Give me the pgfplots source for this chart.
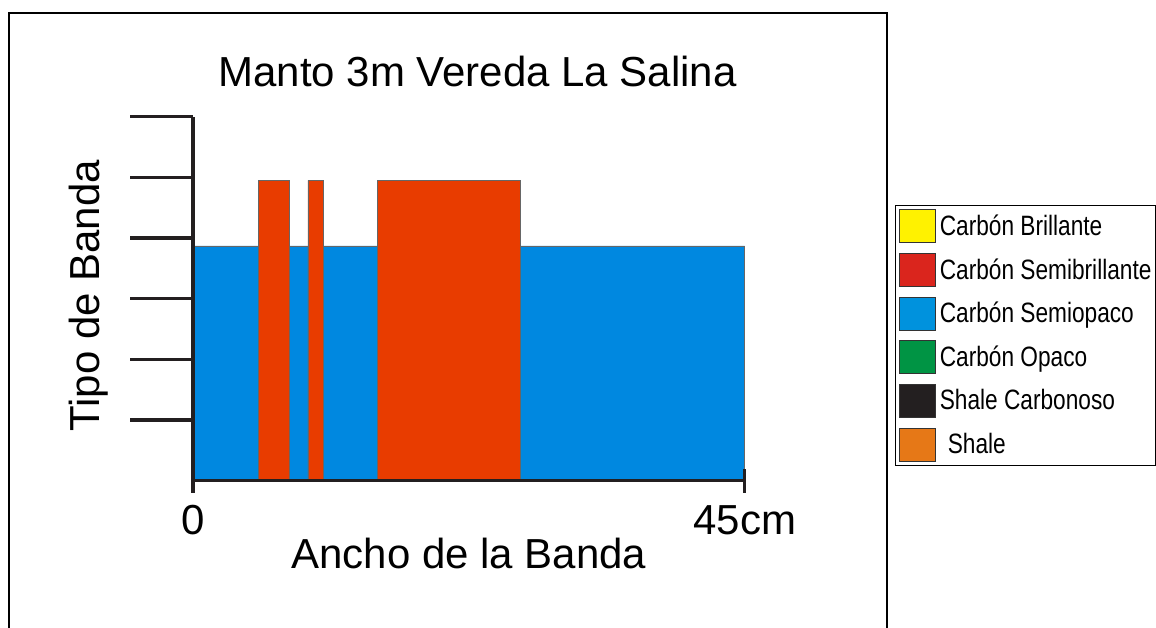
\documentclass[border=0pt]{standalone}
\usepackage{fontspec}
\setmainfont{Liberation Sans}
\newfontfamily\narrowfont[FakeStretch=0.81]{Liberation Sans}
\usepackage{pgfplots}
\pgfplotsset{compat=1.18}
\definecolor{axisblack}{HTML}{231F20}
\definecolor{barblue}{HTML}{0088E0}
\definecolor{barred}{HTML}{E83C00}
\definecolor{lyellow}{HTML}{FFF200}
\definecolor{lred}{HTML}{DA251D}
\definecolor{lblue}{HTML}{0092DD}
\definecolor{lgreen}{HTML}{009444}
\definecolor{lblack}{HTML}{231F20}
\definecolor{lorange}{HTML}{E67817}
\begin{document}
\begin{tikzpicture}
\begin{scope}[x=0.75pt,y=-0.75pt]
\useasboundingbox (0,0) rectangle (1156,628);
\fill[white] (0,0) rectangle (1156,628);
\draw[line width=1.5pt, black] (9,629) -- (9,13) -- (887,13) -- (887,629);
\end{scope}
\begin{axis}[
  at={(144.75pt,-360.75pt)}, anchor=south west,
  scale only axis, width=414pt, height=273.2pt,
  xmin=0, xmax=45, ymin=0, ymax=6,
  clip=false, axis on top,
  axis lines=left,
  axis line style={-, line width=2.5pt, color=axisblack},
  tick align=outside,
  ytick={1,2,3,4,5,6}, yticklabels={},
  major tick length=47pt,
  y tick style={line width=2.5pt, color=axisblack},
  xtick=\empty,
  extra x ticks={0,45},
  extra x tick labels={\textnormal{0},\textnormal{45cm}},
  extra x tick style={major tick length=18pt, tick align=center, x tick style={line width=2.5pt, color=axisblack}},
  minor xtick={9.7,19.7,29.5,39.4},
  minor tick length=13pt,
  minor x tick style={color=gray, line width=0.75pt},
  xticklabel style={font=\fontsize{31.5}{36}\selectfont, yshift=-6pt},
  title={Manto 3m Vereda La Salina},
  title style={font=\fontsize{31.5}{36}\selectfont, at={(axis description cs:0.516,1.0623)}, anchor=base, inner sep=0pt},
  xlabel={Ancho de la Banda},
  xlabel style={font=\fontsize{31.5}{36}\selectfont, at={(axis description cs:0.5,-0.2416)}, anchor=base, inner sep=0pt},
  ylabel={Tipo de Banda},
  ylabel style={font=\fontsize{31.5}{36}\selectfont, at={(axis description cs:-0.1685,0.508)}, anchor=base, inner sep=0pt},
  legend style={at={(axis description cs:1.2717,0.7576)}, anchor=north west, draw=black, line width=0.75pt, inner sep=3pt, row sep=7.5pt, column sep=3pt, font=\narrowfont\fontsize{21}{24}\selectfont, cells={anchor=west}, nodes={inner sep=0pt}},
  legend image code/.code={\draw[#1, draw=black!80, line width=0.5pt] (0pt,-12.5pt) rectangle (27pt,12.25pt);},
]
\addplot[fill=barblue, draw=black!60, line width=0.5pt, forget plot] coordinates {(0,0) (0,3.87) (45,3.87) (45,0)} \closedcycle;
\addplot[fill=barred, draw=black!60, line width=0.5pt, forget plot] coordinates {(5.34,0) (5.34,4.95) (7.83,4.95) (7.83,0)} \closedcycle;
\addplot[fill=barred, draw=black!60, line width=0.5pt, forget plot] coordinates {(9.38,0) (9.38,4.95) (10.63,4.95) (10.63,0)} \closedcycle;
\addplot[fill=barred, draw=black!60, line width=0.5pt, forget plot] coordinates {(15.03,0) (15.03,4.95) (26.66,4.95) (26.66,0)} \closedcycle;
\addlegendimage{fill=lyellow}
\addlegendentry{Carbón Brillante}
\addlegendimage{fill=lred}
\addlegendentry{Carbón Semibrillante}
\addlegendimage{fill=lblue}
\addlegendentry{Carbón Semiopaco}
\addlegendimage{fill=lgreen}
\addlegendentry{Carbón Opaco}
\addlegendimage{fill=lblack}
\addlegendentry{Shale Carbonoso}
\addlegendimage{fill=lorange}
\addlegendentry{\hspace{6pt}Shale}
\end{axis}
\end{tikzpicture}
\end{document}
